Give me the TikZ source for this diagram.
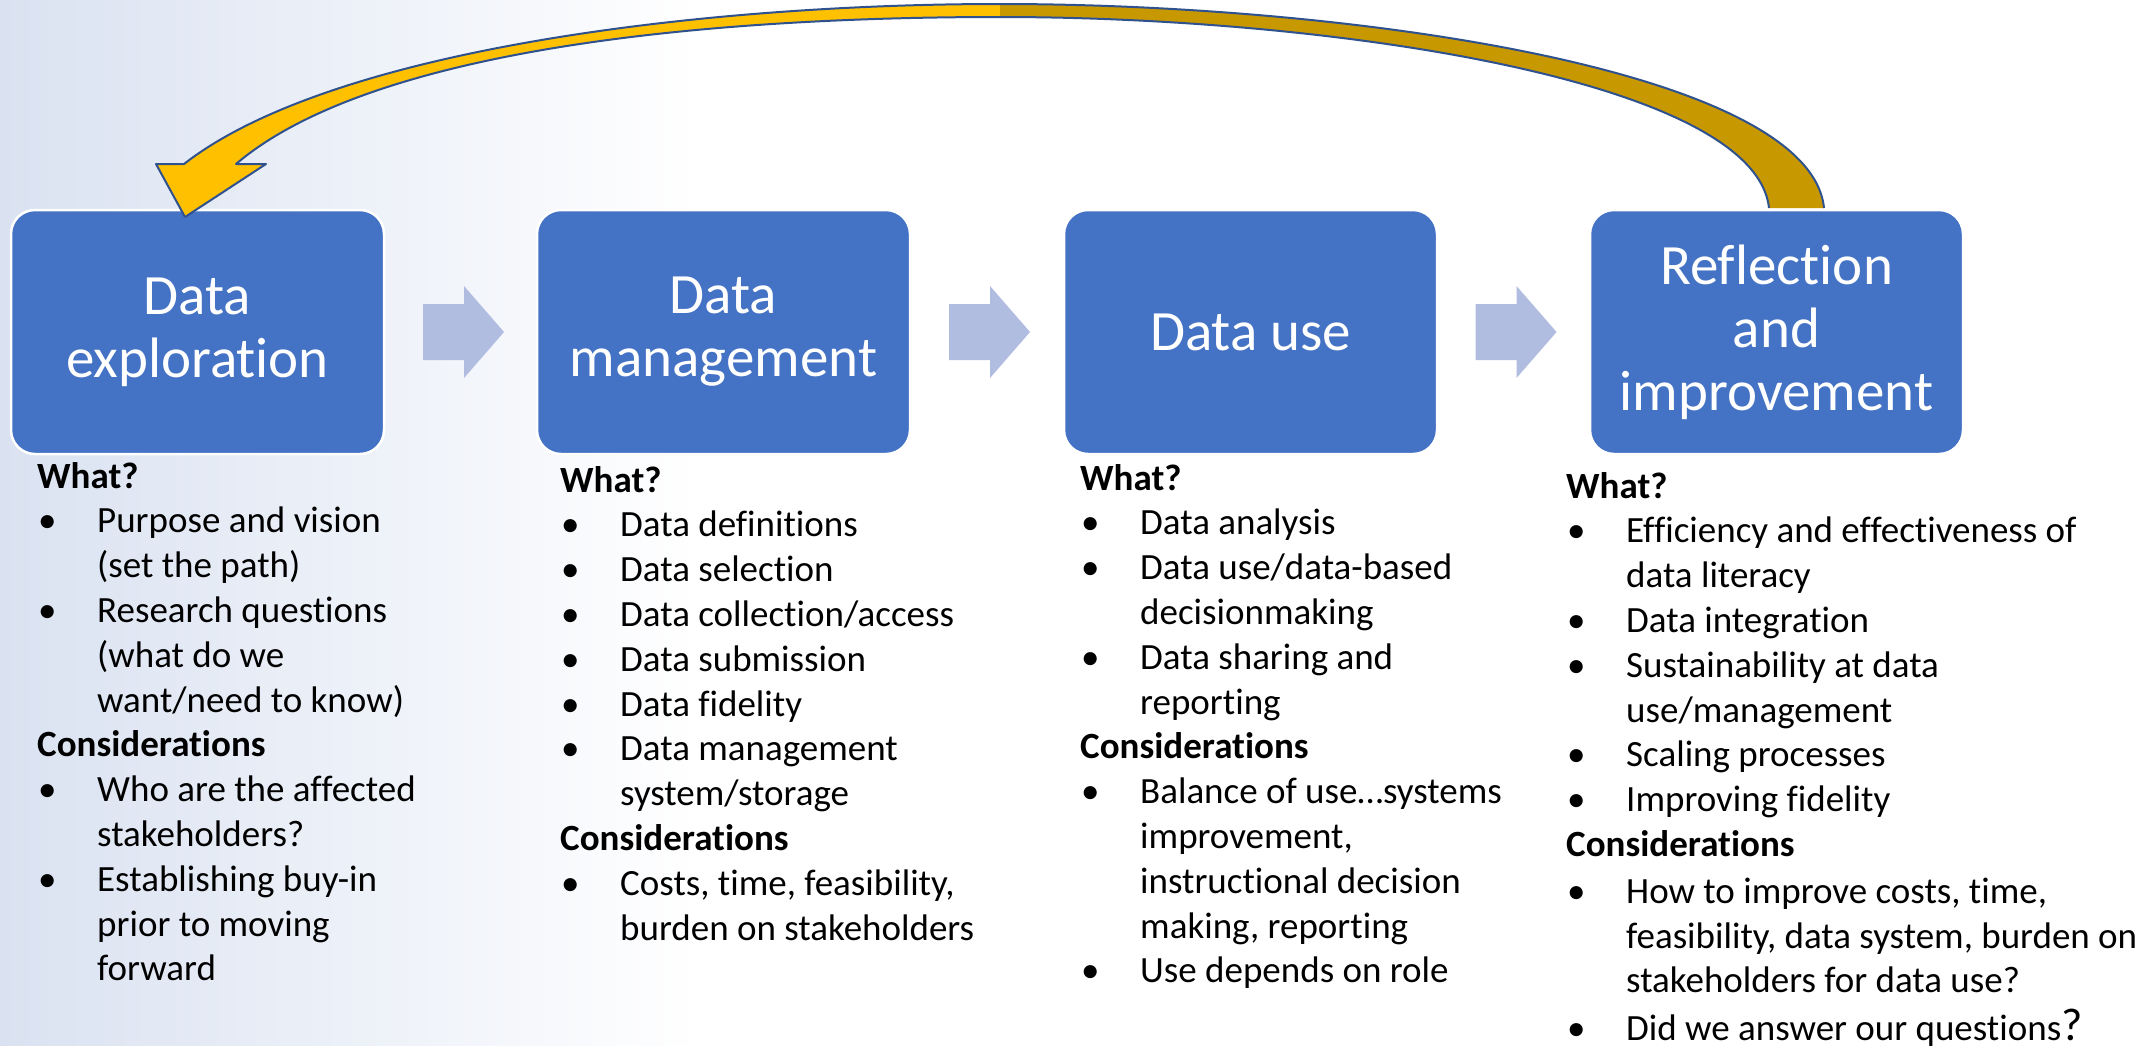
\documentclass[tikz,border=0pt]{standalone}
\usepackage{fontspec}
\setmainfont{Carlito}[Ligatures={NoCommon}]
\usetikzlibrary{calc}
\definecolor{boxblue}{RGB}{68,114,196}
\definecolor{chev}{RGB}{176,188,224}
\definecolor{bgblue}{RGB}{218,226,241}
\definecolor{arrowyellow}{RGB}{255,192,0}
\definecolor{arrowgold}{RGB}{200,152,0}
\definecolor{arrowline}{RGB}{47,82,143}
\newcommand\titlesize{\fontsize{57}{63}\selectfont}
\newcommand\bodysize{\fontsize{37}{44.8}\selectfont}
\newcommand\bul{\makebox[60pt][l]{\hspace{1pt}•}}
\newcommand\ind{\hspace*{60pt}}
\newcommand\bigq{{\fontsize{46}{44.8}\selectfont ?}}
\begin{document}
\begin{tikzpicture}[x=1pt,y=-1pt,
  stagebox/.style={rectangle, rounded corners=24pt, fill=boxblue, draw=white,
    line width=2.5pt, minimum width=373pt, minimum height=244pt, inner sep=0pt,
    text=white, align=center, font=\titlesize},
  bodytext/.style={anchor=north west, inner sep=0pt, align=left, font=\bodysize, text=black},
  bandline/.style={draw=arrowline, line width=2pt, line join=round},
  chevron/.pic={\fill[chev] (-40.5,-28) -- (0.5,-28) -- (0.5,-46) -- (40.5,0)
    -- (0.5,46) -- (0.5,28) -- (-40.5,28) -- cycle;}
]
\useasboundingbox (0,0) rectangle (2149,1045);
\fill[white] (0,0) rectangle (2149,1045);
\shade[left color=bgblue, right color=white] (0,0) rectangle (700,1045);

% process chevrons
\coordinate (c1) at (463.5,332);
\coordinate (c2) at (989.5,332);
\coordinate (c3) at (1516,332);
\pic at (c1) {chevron};
\pic at (c2) {chevron};
\pic at (c3) {chevron};

% stage boxes
\node[stagebox] (b1) at (197.5,332) {Data\\exploration};
\node[stagebox] (b2) at (723.5,332) {Data\\management};
\node[stagebox] (b3) at (1250.5,332) {Data use};
\node[stagebox] (b4) at (1776.5,332) {Reflection\\and\\improvement};

% curved feedback arrow from b4 back to b1
\coordinate (tip) at (185,217);
\fill[arrowyellow] (tip) -- (156,164) -- (184,164)
  .. controls (330,50) and (700,4) .. (1000,4) -- (1000,17)
  .. controls (700,17) and (370,50) .. (236,164) -- (266,164) -- cycle;
\fill[arrowgold] (1000,4) .. controls (1350,4) and (1810,70) .. (1824,208)
  -- (1769,208) .. controls (1755,80) and (1330,17) .. (1000,17) -- cycle;
\draw[bandline] (tip) -- (156,164) -- (184,164)
  .. controls (330,50) and (700,4) .. (1000,4)
  .. controls (1350,4) and (1810,70) .. (1824,208);
\draw[bandline] (1769,208) .. controls (1755,80) and (1330,17) .. (1000,17)
  .. controls (700,17) and (370,50) .. (236,164) -- (266,164) -- (tip);

% text columns
\node[bodytext] (t1) at (37,456.6) {\strut\textbf{What?}\\
\bul Purpose and vision\\
\ind (set the path)\\
\bul Research questions\\
\ind (what do we\\
\ind want/need to know)\\
\textbf{Considerations}\\
\bul Who are the affected\\
\ind stakeholders?\\
\bul Establishing buy-in\\
\ind prior to moving\\
\ind forward};

\node[bodytext] (t2) at (560,460.6) {\strut\textbf{What?}\\
\bul Data definitions\\
\bul Data selection\\
\bul Data collection/access\\
\bul Data submission\\
\bul Data fidelity\\
\bul Data management\\
\ind system/storage\\
\textbf{Considerations}\\
\bul Costs, time, feasibility,\\
\ind burden on stakeholders};

\node[bodytext] (t3) at (1080,458.6) {\strut\textbf{What?}\\
\bul Data analysis\\
\bul Data use/data-based\\
\ind decisionmaking\\
\bul Data sharing and\\
\ind reporting\\
\textbf{Considerations}\\
\bul Balance of use…systems\\
\ind improvement,\\
\ind instructional decision\\
\ind making, reporting\\
\bul Use depends on role};

\node[bodytext] (t4) at (1566,466.6) {\strut\textbf{What?}\\
\bul Efficiency and effectiveness of\\
\ind data literacy\\
\bul Data integration\\
\bul Sustainability at data\\
\ind use/management\\
\bul Scaling processes\\
\bul Improving fidelity\\
\textbf{Considerations}\\[2pt]
\bul How to improve costs, time,\\
\ind feasibility, data system, burden on\\
\ind stakeholders for data use?\\[3pt]
\bul Did we answer our questions\bigq};
\end{tikzpicture}
\end{document}
